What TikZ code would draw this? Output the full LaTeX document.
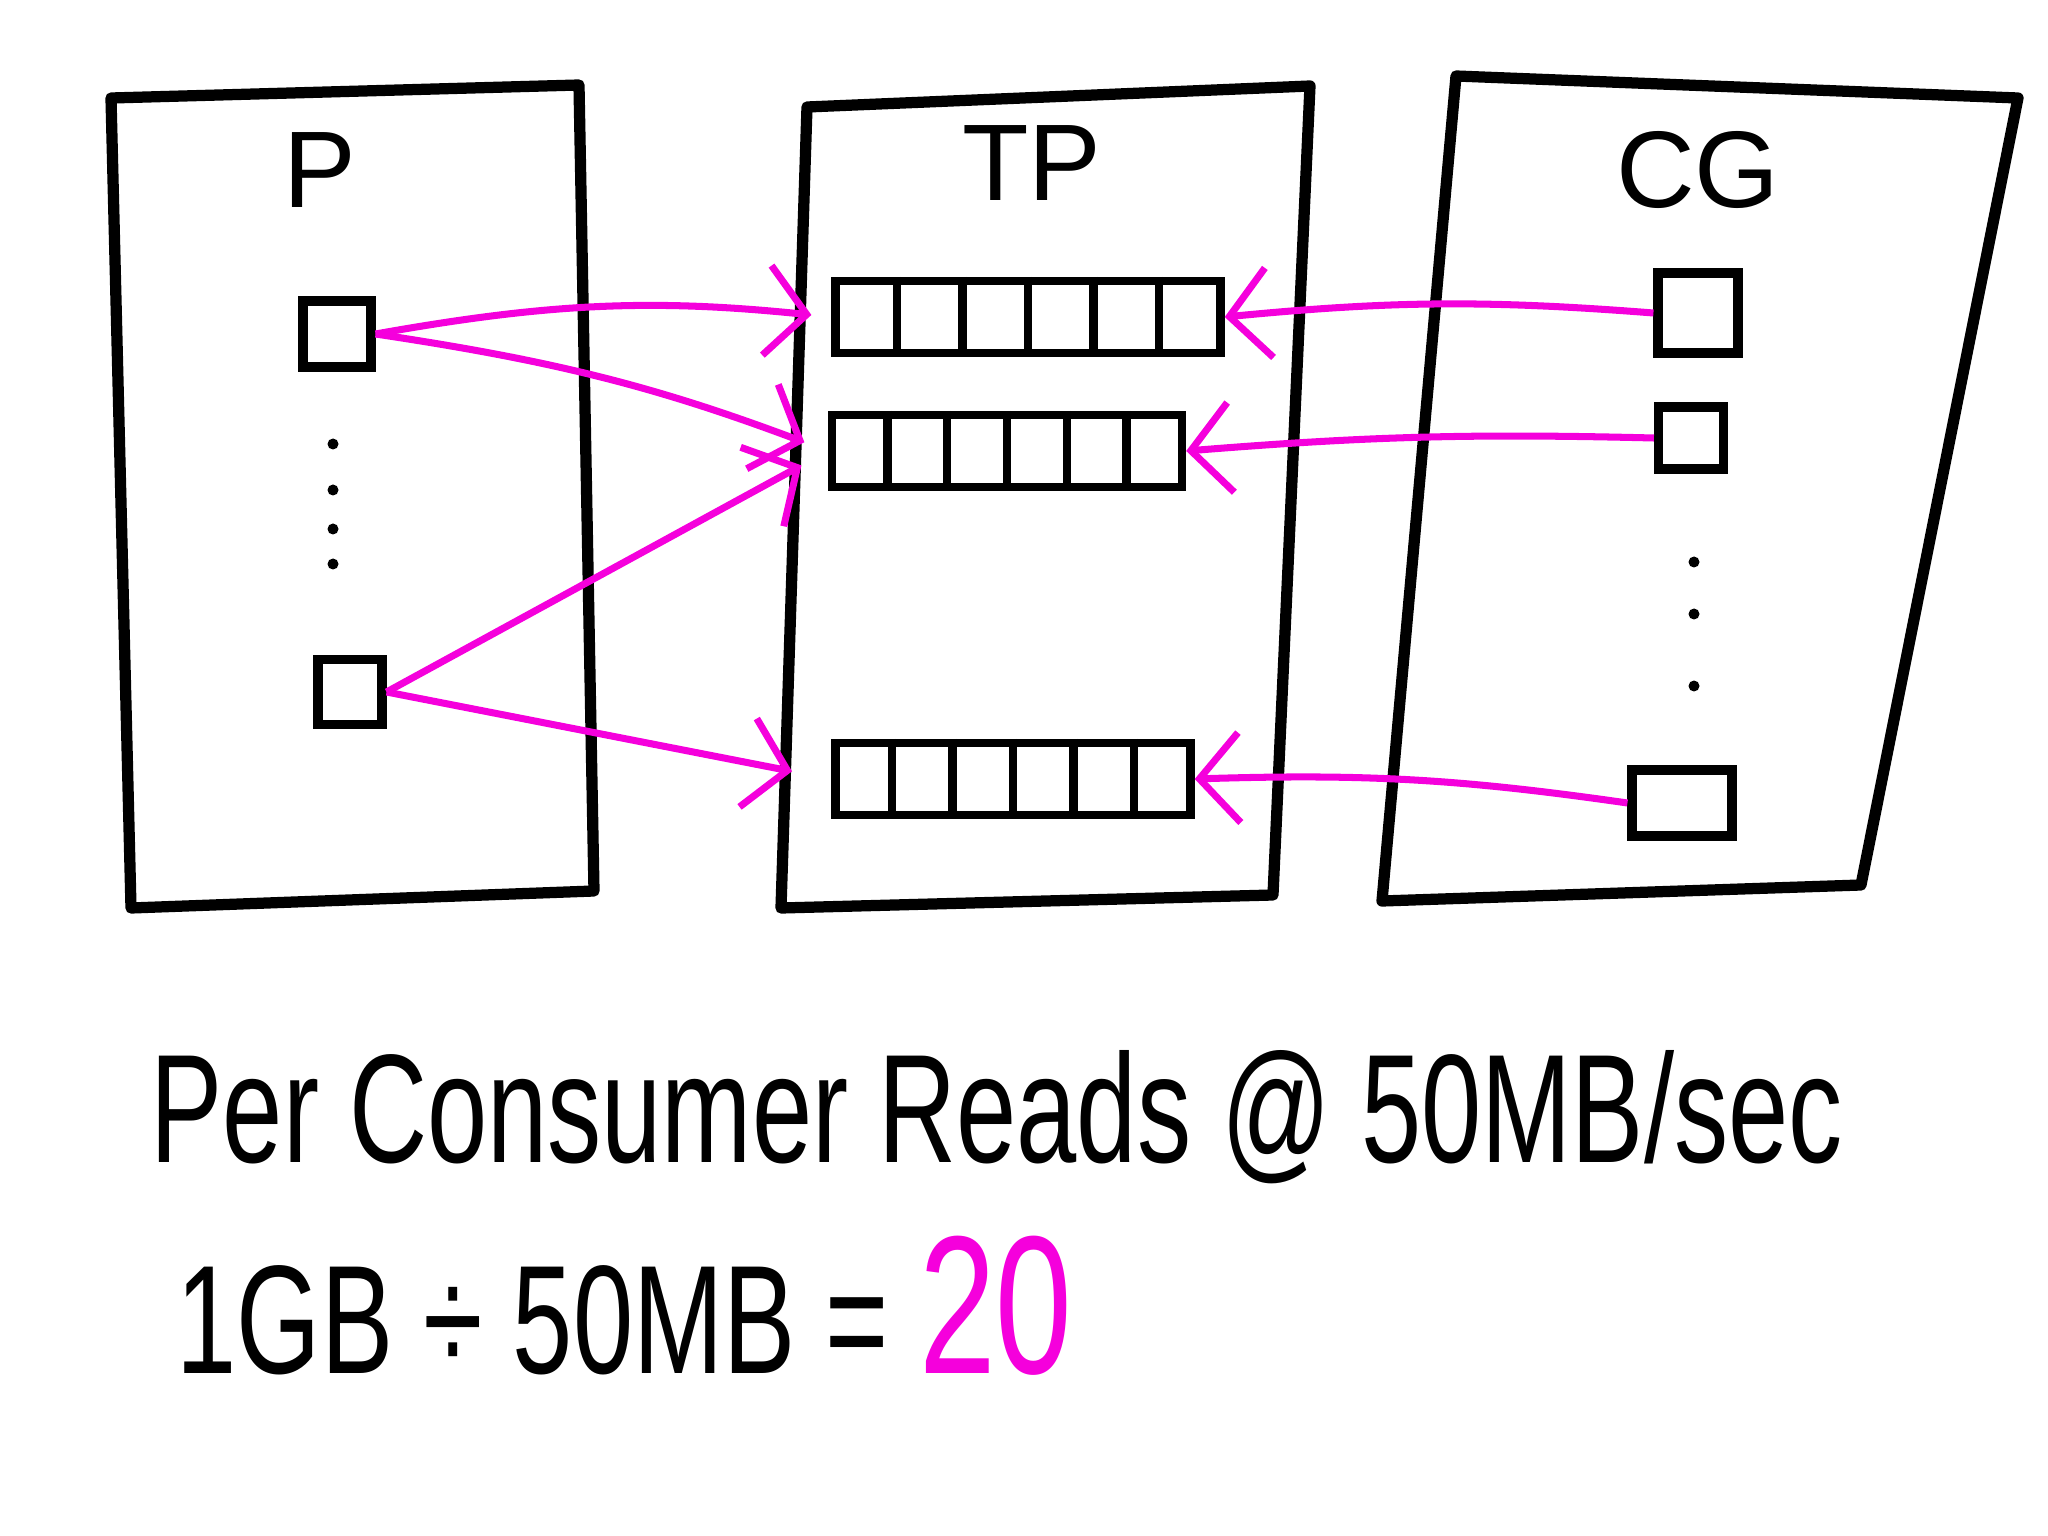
\documentclass[tikz,border=0pt]{standalone}
\usepackage{fontspec}
\setmainfont{Liberation Sans}
\usetikzlibrary{arrows.meta,calc}
\definecolor{mypink}{RGB}{245,0,220}

\begin{document}
\begin{tikzpicture}[x=1cm,y=-1cm,
    wall/.style={draw,line width=3.2pt,line join=round},
    part/.style={draw,line width=2.4pt,minimum height=0.72cm,inner sep=0pt},
    slot/.style={draw,line width=2.6pt,minimum width=0.68cm,minimum height=0.66cm,inner sep=0pt},
    lbl/.style={font=\fontsize{31}{36}\selectfont},
    big/.style={font=\fontsize{44}{50}\selectfont,anchor=west,inner sep=0pt},
    arr/.style={-{Straight Barb[length=4mm,width=9mm]},mypink,line width=2pt}
]
\useasboundingbox (0,0) rectangle (20.48,15.36);

% the three columns
\draw[wall] (1.11,0.98) -- (5.79,0.85) -- (5.94,8.91) -- (1.31,9.08) -- cycle;
\draw[wall] (8.07,1.07) -- (13.10,0.86) -- (12.73,8.95) -- (7.81,9.08) -- cycle;
\draw[wall] (14.56,0.76) -- (20.18,0.98) -- (18.61,8.85) -- (13.82,9.01) -- cycle;
\node[lbl] (ptitle)  at (3.20,1.70)  {P};
\node[lbl] (tptitle) at (10.32,1.63) {TP};
\node[lbl] (cgtitle) at (16.98,1.70) {CG};

% partitions
\node[part,minimum width=3.85cm] (part1) at (10.28,3.17) {};
\node[part,minimum width=3.50cm] (part2) at (10.07,4.51) {};
\node[part,minimum width=3.55cm] (part3) at (10.13,7.79) {};
\foreach \p in {part1,part2,part3}
    \foreach \i in {1,...,5}
        \draw[line width=2.4pt] ($(\p.north west)!\i/6!(\p.north east)$) -- ($(\p.south west)!\i/6!(\p.south east)$);

% producers and consumers
\node[slot] (prod1) at (3.37,3.34) {};
\node[slot,minimum width=0.64cm,minimum height=0.65cm] (prod2) at (3.50,6.92) {};
\node[slot,minimum width=0.8cm,minimum height=0.8cm] (cons1) at (16.98,3.13) {};
\node[slot,minimum width=0.65cm,minimum height=0.62cm] (cons2) at (16.91,4.38) {};
\node[slot,minimum width=1.0cm] (cons3) at (16.82,8.03) {};
\foreach \y in {4.44,4.90,5.29,5.64}
    \fill (3.33,\y) circle (0.055);
\foreach \y in {5.62,6.14,6.86}
    \fill (16.94,\y) circle (0.055);

% writes and reads
\draw[arr,shorten >=0.2cm] (prod1.east) to[bend left=8] (part1.west);
\draw[arr,shorten >=0.25cm] (prod1.east) to[bend left=6] (part2.west);
\draw[arr,shorten >=0.3cm] (prod2.east) -- (part2.west);
\draw[arr,shorten >=0.4cm] (prod2.east) -- (part3.west);
\draw[arr] (cons1.west) to[bend right=5] (part1.east);
\draw[arr] (cons2.west) to[bend right=3] (part2.east);
\draw[arr] (cons3.west) to[bend right=5] (part3.east);

% the sum
\node[big] (rate)  at (1.50,11.17) {\scalebox{0.7}[1]{Per Consumer Reads @ 50MB/sec}};
\node[big] (ratio) at (1.76,13.06) {\scalebox{0.7}[1]{1GB ÷ 50MB = \textcolor{mypink}{\fontsize{56}{60}\selectfont 20}}};
\end{tikzpicture}
\end{document}
